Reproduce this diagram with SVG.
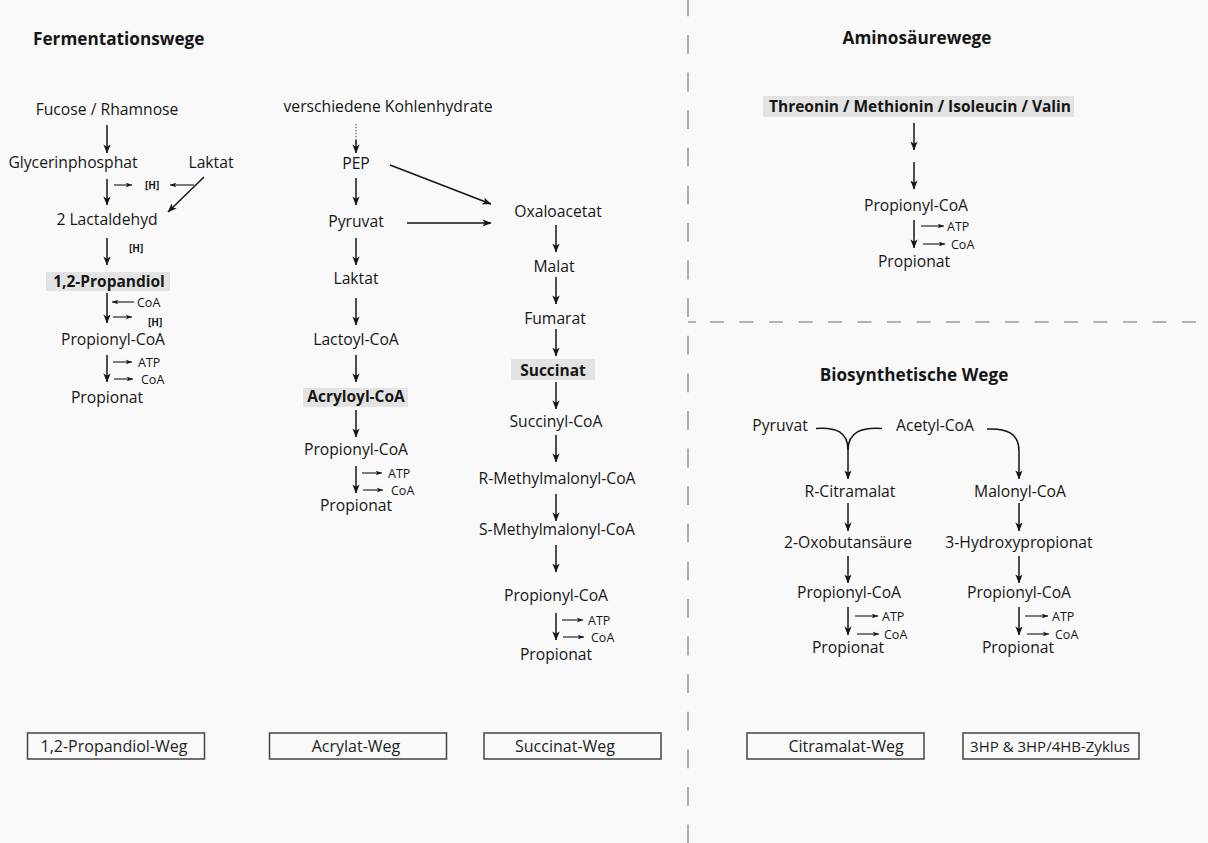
<svg xmlns="http://www.w3.org/2000/svg" width="1208" height="843" viewBox="0 0 1208 843">
  <defs>
    <marker id="ah" viewBox="0 0 10 10" refX="9.5" refY="5" markerWidth="9" markerHeight="9" markerUnits="userSpaceOnUse" orient="auto">
      <path d="M0,1 L10,5 L0,9 L2.5,5 z" fill="#151515"/>
    </marker>
    <marker id="ahs" viewBox="0 0 10 10" refX="9.5" refY="5" markerWidth="6.5" markerHeight="6.5" markerUnits="userSpaceOnUse" orient="auto">
      <path d="M0,1.5 L10,5 L0,8.5 L2.5,5 z" fill="#151515"/>
    </marker>
  </defs>
  <style>
    text { font-family: "Open Sans", "Liberation Sans", sans-serif; fill: #161616; }
    .t { font-size: 15.7px; text-anchor: middle; }
    .b { font-size: 15.5px; font-weight: bold; text-anchor: middle; }
    .h { font-size: 17.2px; font-weight: bold; }
    .s { font-size: 12.5px; }
    .hh { font-size: 10px; font-weight: bold; }
    .lab { font-size: 16px; text-anchor: middle; fill: #222; }
    .hl { fill: #e3e3e3; }
    .box { fill: none; stroke: #444; stroke-width: 1.5; }
    .m { stroke: #151515; stroke-width: 1.5; fill: none; marker-end: url(#ah); }
    .sa { stroke: #151515; stroke-width: 1.1; fill: none; marker-end: url(#ahs); }
    .dot { stroke: #555; stroke-width: 1.2; stroke-dasharray: 1.2 1.8; fill: none; }
    .div { stroke: #9a9a9a; stroke-width: 1.6; fill: none; }
  </style>

  <rect width="1208" height="843" fill="#f9f9f9"/>

  <!-- section dividers -->
  <g id="dividers">
    <line class="div" x1="688" y1="-2.6" x2="688" y2="843" stroke-dasharray="18.8 18.8"/>
    <line class="div" x1="688" y1="322" x2="1197" y2="322" stroke-dasharray="8 14 14 15.5 14 15.5 14 15.5 14 15.5 14 15.5 14 15.5 14 15.5 14 15.5 14 15.5 14 15.5 14 15.5 14 15.5 14 15.5 14 15.5 14 15.5 14 15.5 14 15.5"/>
  </g>

  <!-- section titles -->
  <g id="titles">
    <text class="h" x="33" y="45">Fermentationswege</text>
    <text class="h" x="917" y="44" text-anchor="middle">Aminosäurewege</text>
    <text class="h" x="914" y="381" text-anchor="middle">Biosynthetische Wege</text>
  </g>

  <!-- 1,2-Propandiol pathway -->
  <g id="n-fucose"><text class="t" x="107" y="115">Fucose / Rhamnose</text></g>
  <g id="n-glycerinphosphat"><text class="t" x="73" y="168">Glycerinphosphat</text></g>
  <g id="n-laktat1"><text class="t" x="211" y="168">Laktat</text></g>
  <g id="n-lactaldehyd"><text class="t" x="107" y="225">2 Lactaldehyd</text></g>
  <g id="n-propandiol">
    <rect class="hl" x="46" y="272" width="124" height="19"/>
    <text class="b" x="109" y="287">1,2-Propandiol</text>
  </g>
  <g id="n-propionylcoa1"><text class="t" x="113" y="345">Propionyl-CoA</text></g>
  <g id="n-propionat1"><text class="t" x="107" y="403">Propionat</text></g>

  <!-- Acrylate pathway -->
  <g id="n-kohlenhydrate"><text class="t" x="388" y="112">verschiedene Kohlenhydrate</text></g>
  <g id="n-pep"><text class="t" x="356" y="169">PEP</text></g>
  <g id="n-pyruvat1"><text class="t" x="356" y="227">Pyruvat</text></g>
  <g id="n-laktat2"><text class="t" x="356" y="284">Laktat</text></g>
  <g id="n-lactoylcoa"><text class="t" x="356" y="345">Lactoyl-CoA</text></g>
  <g id="n-acryloylcoa">
    <rect class="hl" x="303" y="388" width="105" height="19"/>
    <text class="b" x="356" y="402">Acryloyl-CoA</text>
  </g>
  <g id="n-propionylcoa2"><text class="t" x="356" y="455">Propionyl-CoA</text></g>
  <g id="n-propionat2"><text class="t" x="356" y="511">Propionat</text></g>

  <!-- Succinate pathway -->
  <g id="n-oxaloacetat"><text class="t" x="558" y="217">Oxaloacetat</text></g>
  <g id="n-malat"><text class="t" x="554" y="272">Malat</text></g>
  <g id="n-fumarat"><text class="t" x="555" y="324">Fumarat</text></g>
  <g id="n-succinat">
    <rect class="hl" x="511" y="359" width="84" height="21"/>
    <text class="b" x="553" y="376">Succinat</text>
  </g>
  <g id="n-succinylcoa"><text class="t" x="556" y="427">Succinyl-CoA</text></g>
  <g id="n-rmethylmalonyl"><text class="t" x="557" y="484">R-Methylmalonyl-CoA</text></g>
  <g id="n-smethylmalonyl"><text class="t" x="557" y="535">S-Methylmalonyl-CoA</text></g>
  <g id="n-propionylcoa3"><text class="t" x="556" y="601">Propionyl-CoA</text></g>
  <g id="n-propionat3"><text class="t" x="556" y="660">Propionat</text></g>

  <!-- Amino acid pathway -->
  <g id="n-aminosaeuren">
    <rect class="hl" x="763" y="96" width="311" height="21"/>
    <text class="b" x="920" y="112">Threonin / Methionin / Isoleucin / Valin</text>
  </g>
  <g id="n-propionylcoa4"><text class="t" x="916" y="211">Propionyl-CoA</text></g>
  <g id="n-propionat4"><text class="t" x="914" y="267">Propionat</text></g>

  <!-- Biosynthetic pathways -->
  <g id="n-pyruvat2"><text class="t" x="780" y="431">Pyruvat</text></g>
  <g id="n-acetylcoa"><text class="t" x="935" y="431">Acetyl-CoA</text></g>
  <g id="n-citramalat"><text class="t" x="850" y="497">R-Citramalat</text></g>
  <g id="n-oxobutansaeure"><text class="t" x="848" y="548">2-Oxobutansäure</text></g>
  <g id="n-propionylcoa5"><text class="t" x="849" y="598">Propionyl-CoA</text></g>
  <g id="n-propionat5"><text class="t" x="848" y="653">Propionat</text></g>
  <g id="n-malonylcoa"><text class="t" x="1020" y="497">Malonyl-CoA</text></g>
  <g id="n-hydroxypropionat"><text class="t" x="1019" y="548">3-Hydroxypropionat</text></g>
  <g id="n-propionylcoa6"><text class="t" x="1019" y="598">Propionyl-CoA</text></g>
  <g id="n-propionat6"><text class="t" x="1018" y="653">Propionat</text></g>

  <!-- pathway name boxes -->
  <g id="label-propandiol">
    <rect class="box" x="27.5" y="733" width="177" height="26"/>
    <text class="lab" x="114" y="751.5">1,2-Propandiol-Weg</text>
  </g>
  <g id="label-acrylat">
    <rect class="box" x="269.5" y="733" width="177" height="26"/>
    <text class="lab" x="356" y="751.5">Acrylat-Weg</text>
  </g>
  <g id="label-succinat">
    <rect class="box" x="484" y="733" width="177" height="26"/>
    <text class="lab" x="565" y="751.5">Succinat-Weg</text>
  </g>
  <g id="label-citramalat">
    <rect class="box" x="747" y="733" width="177" height="26"/>
    <text class="lab" x="846" y="751.5">Citramalat-Weg</text>
  </g>
  <g id="label-3hp">
    <rect class="box" x="963" y="733" width="176" height="26"/>
    <text class="lab" x="1050" y="751.5" style="font-size:15px">3HP &amp; 3HP/4HB-Zyklus</text>
  </g>

  <!-- connectors -->
  <g id="connectors">
    <!-- 1,2-Propandiol pathway -->
    <line class="m" x1="107" y1="125" x2="107" y2="153"/>
    <line class="m" x1="107" y1="179" x2="107" y2="205"/>
    <line class="sa" x1="114" y1="185" x2="132" y2="185"/>
    <text class="hh" x="145" y="189">[H]</text>
    <line class="sa" x1="194" y1="185" x2="170" y2="185"/>
    <line class="m" x1="204" y1="177" x2="168" y2="212"/>
    <line class="m" x1="107" y1="238" x2="107" y2="265"/>
    <text class="hh" x="129" y="251.5">[H]</text>
    <line class="m" x1="107" y1="293" x2="107" y2="323"/>
    <line class="sa" x1="134" y1="302" x2="112" y2="302"/>
    <text class="s" x="137" y="307">CoA</text>
    <line class="sa" x1="113" y1="317" x2="132" y2="317"/>
    <text class="hh" x="148" y="325.5">[H]</text>
    <line class="m" x1="107" y1="355" x2="107" y2="382"/>
    <line class="sa" x1="113" y1="362" x2="132" y2="362"/>
    <text class="s" x="138" y="366.5">ATP</text>
    <line class="sa" x1="114" y1="379" x2="133" y2="379"/>
    <text class="s" x="141" y="383.5">CoA</text>

    <!-- Acrylate pathway -->
    <line class="dot" x1="356" y1="124" x2="356" y2="145"/>
    <line class="m" x1="356" y1="140" x2="356" y2="153"/>
    <line class="m" x1="390" y1="165" x2="491" y2="204"/>
    <line class="m" x1="356" y1="178" x2="356" y2="205"/>
    <line class="m" x1="407" y1="223" x2="491" y2="223"/>
    <line class="m" x1="356" y1="238" x2="356" y2="265"/>
    <line class="m" x1="356" y1="298" x2="356" y2="325"/>
    <line class="m" x1="356" y1="355" x2="356" y2="382"/>
    <line class="m" x1="356" y1="410" x2="356" y2="437"/>
    <line class="m" x1="356" y1="466" x2="356" y2="493"/>
    <line class="sa" x1="362" y1="473" x2="382" y2="473"/>
    <text class="s" x="388" y="477.5">ATP</text>
    <line class="sa" x1="363" y1="490" x2="383" y2="490"/>
    <text class="s" x="391" y="494.5">CoA</text>

    <!-- Succinate pathway -->
    <line class="m" x1="556" y1="225" x2="556" y2="252"/>
    <line class="m" x1="556" y1="277" x2="556" y2="304"/>
    <line class="m" x1="556" y1="329" x2="556" y2="356"/>
    <line class="m" x1="556" y1="382" x2="556" y2="409"/>
    <line class="m" x1="556" y1="435" x2="556" y2="462"/>
    <line class="m" x1="556" y1="494" x2="556" y2="521"/>
    <line class="m" x1="556" y1="545" x2="556" y2="572"/>
    <line class="m" x1="556" y1="613" x2="556" y2="640"/>
    <line class="sa" x1="562" y1="620" x2="583" y2="620"/>
    <text class="s" x="588" y="625">ATP</text>
    <line class="sa" x1="563" y1="637" x2="584" y2="637"/>
    <text class="s" x="591" y="642">CoA</text>

    <!-- Amino acid pathway -->
    <line class="m" x1="914" y1="123" x2="914" y2="150"/>
    <line class="m" x1="914" y1="162" x2="914" y2="189"/>
    <line class="m" x1="914" y1="220" x2="914" y2="248"/>
    <line class="sa" x1="921" y1="226" x2="944" y2="226"/>
    <text class="s" x="947" y="231">ATP</text>
    <line class="sa" x1="923" y1="244" x2="945" y2="244"/>
    <text class="s" x="951" y="249">CoA</text>

    <!-- Citramalate pathway -->
    <path class="m" d="M816,428.5 C836,427 848,432 848,450 L848,479"/>
    <path d="M882,428.5 C862,427 848,432 848,450" stroke="#151515" stroke-width="1.5" fill="none"/>
    <line class="m" x1="848" y1="503" x2="848" y2="531"/>
    <line class="m" x1="848" y1="556" x2="848" y2="583"/>
    <line class="m" x1="848" y1="607" x2="848" y2="635"/>
    <line class="sa" x1="855" y1="616" x2="878" y2="616"/>
    <text class="s" x="882" y="621">ATP</text>
    <line class="sa" x1="857" y1="634" x2="879" y2="634"/>
    <text class="s" x="884" y="639">CoA</text>

    <!-- 3HP pathway -->
    <path class="m" d="M987,429 C1006,428 1019,433 1019,451 L1019,479"/>
    <line class="m" x1="1019" y1="503" x2="1019" y2="531"/>
    <line class="m" x1="1019" y1="556" x2="1019" y2="583"/>
    <line class="m" x1="1019" y1="607" x2="1019" y2="635"/>
    <line class="sa" x1="1025" y1="616" x2="1048" y2="616"/>
    <text class="s" x="1052" y="621">ATP</text>
    <line class="sa" x1="1027" y1="634" x2="1049" y2="634"/>
    <text class="s" x="1055" y="639">CoA</text>
  </g>
</svg>
